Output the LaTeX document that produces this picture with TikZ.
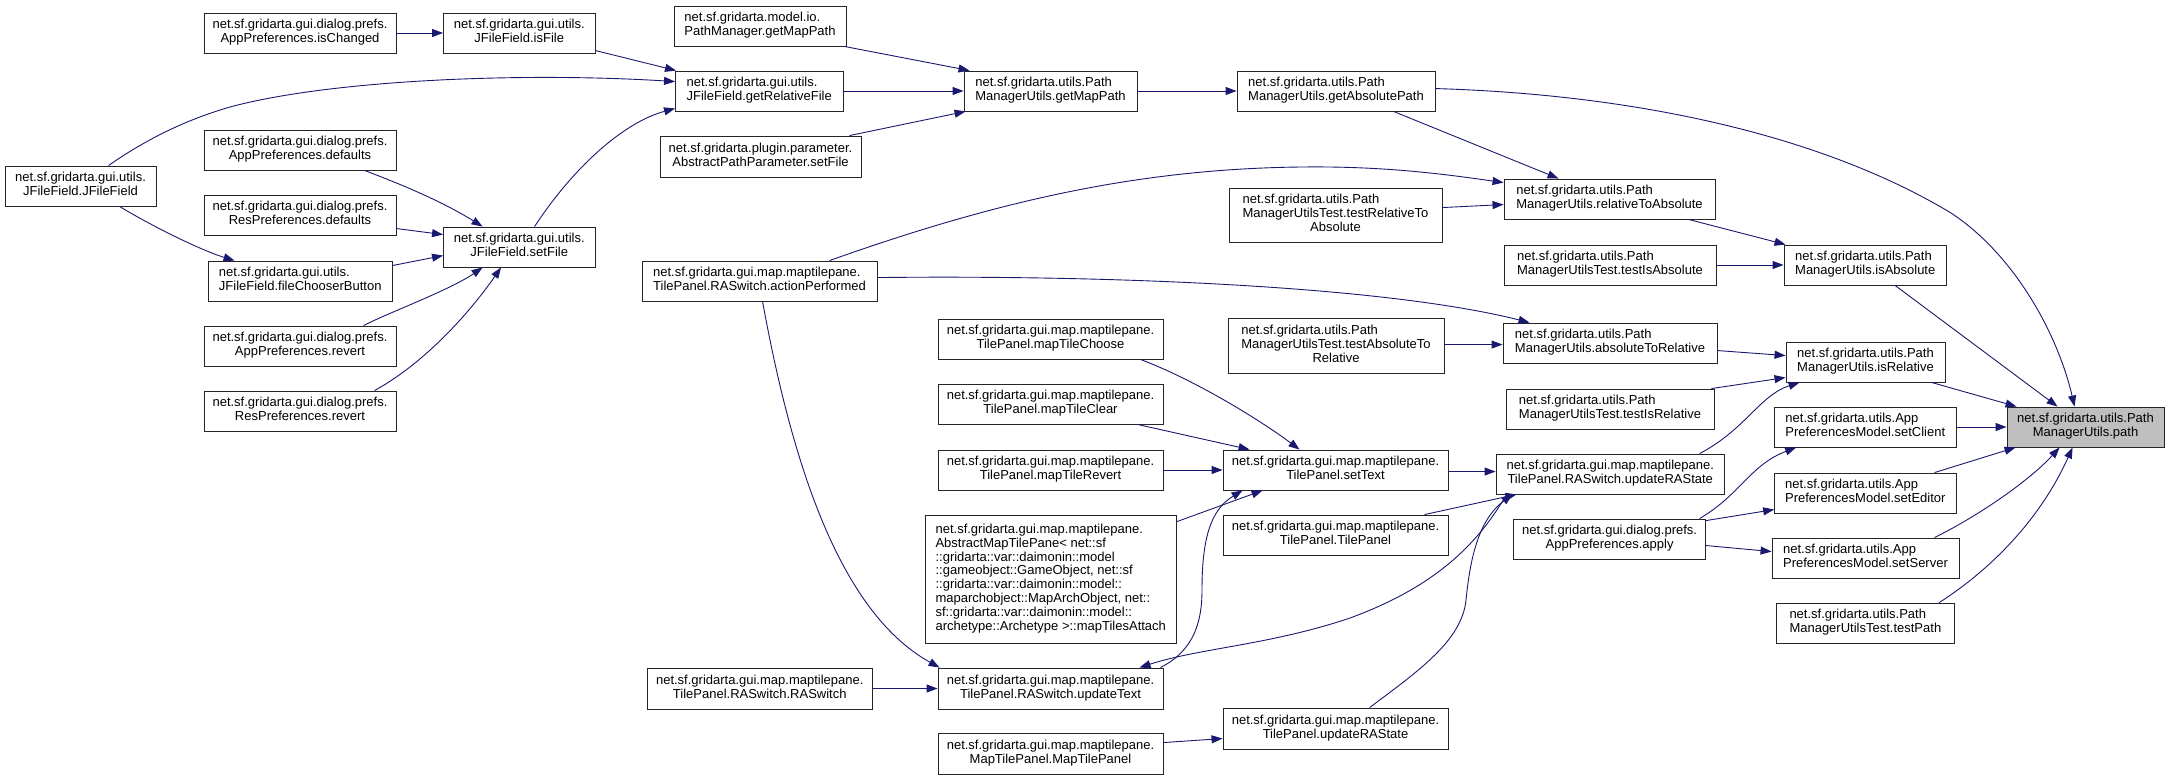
\documentclass[tikz,border=0pt]{standalone}
\usepackage{fontspec}
\setmainfont{Liberation Sans}
\usetikzlibrary{arrows.meta}
\definecolor{edgeblue}{HTML}{191970}
\definecolor{boxgray}{HTML}{BFBFBF}
\newcommand{\nlbl}[2]{\begin{tabular}{@{}l@{}}#1\\\multicolumn{1}{@{}c@{}}{#2}\end{tabular}}
\begin{document}
\begin{tikzpicture}[x=1pt,y=-1pt,
  box/.style={draw=black!85, line width=0.9pt, fill=white, inner sep=0pt, minimum height=40pt, font=\fontsize{13}{13.8}\selectfont},
  edge/.style={draw=edgeblue, line width=0.9pt, -{Triangle[length=11pt,width=8pt]}}]
\useasboundingbox[fill=white] (0,0) rectangle (2169,780);

% column 1
\node[box,minimum width=192pt] (isChanged) at (300,33) {\nlbl{net.sf.gridarta.gui.dialog.prefs.}{AppPreferences.isChanged}};
\node[box,minimum width=151pt] (JFileField) at (80.5,186) {\nlbl{net.sf.gridarta.gui.utils.}{JFileField.JFileField}};
\node[box,minimum width=192pt] (appDefaults) at (300,150) {\nlbl{net.sf.gridarta.gui.dialog.prefs.}{AppPreferences.defaults}};
\node[box,minimum width=192pt] (resDefaults) at (300,215) {\nlbl{net.sf.gridarta.gui.dialog.prefs.}{ResPreferences.defaults}};
\node[box,minimum width=183.5pt] (fileChooser) at (300.25,281) {\nlbl{net.sf.gridarta.gui.utils.}{JFileField.fileChooserButton}};
\node[box,minimum width=192pt] (appRevert) at (300,346) {\nlbl{net.sf.gridarta.gui.dialog.prefs.}{AppPreferences.revert}};
\node[box,minimum width=192pt] (resRevert) at (300,411) {\nlbl{net.sf.gridarta.gui.dialog.prefs.}{ResPreferences.revert}};
\node[box,minimum width=151.5pt] (isFile) at (519.25,33) {\nlbl{net.sf.gridarta.gui.utils.}{JFileField.isFile}};
\node[box,minimum width=151.5pt] (setFile) at (519.25,247) {\nlbl{net.sf.gridarta.gui.utils.}{JFileField.setFile}};
% column 3
\node[box,minimum width=172pt] (pmGetMapPath) at (760,26) {\nlbl{net.sf.gridarta.model.io.}{PathManager.getMapPath}};
\node[box,minimum width=167.5pt] (getRelativeFile) at (759.25,91) {\nlbl{net.sf.gridarta.gui.utils.}{JFileField.getRelativeFile}};
\node[box,minimum width=201pt,minimum height=41pt] (absPathParam) at (760.5,156.5) {\nlbl{net.sf.gridarta.plugin.parameter.}{AbstractPathParameter.setFile}};
\node[box,minimum width=235pt] (actionPerformed) at (759.5,281) {\nlbl{net.sf.gridarta.gui.map.maptilepane.}{TilePanel.RASwitch.actionPerformed}};
\node[box,minimum width=224.5pt,minimum height=41pt] (raswitchCtor) at (759.75,688.5) {\nlbl{net.sf.gridarta.gui.map.maptilepane.}{TilePanel.RASwitch.RASwitch}};
% column 4
\node[box,minimum width=173pt] (pmuGetMapPath) at (1050.5,91) {\nlbl{net.sf.gridarta.utils.Path}{ManagerUtils.getMapPath}};
\node[box,minimum width=225pt] (mapTileChoose) at (1050.5,339) {\nlbl{net.sf.gridarta.gui.map.maptilepane.}{TilePanel.mapTileChoose}};
\node[box,minimum width=225pt] (mapTileClear) at (1050.5,404) {\nlbl{net.sf.gridarta.gui.map.maptilepane.}{TilePanel.mapTileClear}};
\node[box,minimum width=225pt] (mapTileRevert) at (1050.5,470) {\nlbl{net.sf.gridarta.gui.map.maptilepane.}{TilePanel.mapTileRevert}};
\node[box,minimum width=251.5pt,minimum height=128pt] (mapTilesAttach) at (1050.75,579) {\nlbl{net.sf.gridarta.gui.map.maptilepane.\\AbstractMapTilePane< net::sf\\::gridarta::var::daimonin::model\\::gameobject::GameObject, net::sf\\::gridarta::var::daimonin::model::\\maparchobject::MapArchObject, net::\\sf::gridarta::var::daimonin::model::}{archetype::Archetype >::mapTilesAttach}};
\node[box,minimum width=225pt,minimum height=41pt] (updateText) at (1050.5,688.5) {\nlbl{net.sf.gridarta.gui.map.maptilepane.}{TilePanel.RASwitch.updateText}};
\node[box,minimum width=225pt,minimum height=41pt] (mapTilePanel) at (1050.5,753.5) {\nlbl{net.sf.gridarta.gui.map.maptilepane.}{MapTilePanel.MapTilePanel}};
% column 5
\node[box,minimum width=198pt] (getAbsolutePath) at (1336,91) {\nlbl{net.sf.gridarta.utils.Path}{ManagerUtils.getAbsolutePath}};
\node[box,minimum width=213pt,minimum height=54pt] (testRelToAbs) at (1335.5,215) {\nlbl{net.sf.gridarta.utils.Path\\ManagerUtilsTest.testRelativeTo}{Absolute}};
\node[box,minimum width=216pt,minimum height=55pt] (testAbsToRel) at (1336,345.5) {\nlbl{net.sf.gridarta.utils.Path\\ManagerUtilsTest.testAbsoluteTo}{Relative}};
\node[box,minimum width=225pt] (setText) at (1335.5,470) {\nlbl{net.sf.gridarta.gui.map.maptilepane.}{TilePanel.setText}};
\node[box,minimum width=225pt] (tilePanelCtor) at (1335.5,535) {\nlbl{net.sf.gridarta.gui.map.maptilepane.}{TilePanel.TilePanel}};
\node[box,minimum width=225pt,minimum height=41pt] (tpUpdateRAState) at (1335.5,728.5) {\nlbl{net.sf.gridarta.gui.map.maptilepane.}{TilePanel.updateRAState}};
% column 6
\node[box,minimum width=211pt] (relToAbs) at (1609.5,199) {\nlbl{net.sf.gridarta.utils.Path}{ManagerUtils.relativeToAbsolute}};
\node[box,minimum width=212pt] (testIsAbsolute) at (1610,265) {\nlbl{net.sf.gridarta.utils.Path}{ManagerUtilsTest.testIsAbsolute}};
\node[box,minimum width=214pt] (absToRel) at (1610,343) {\nlbl{net.sf.gridarta.utils.Path}{ManagerUtils.absoluteToRelative}};
\node[box,minimum width=208pt] (testIsRelative) at (1610,409) {\nlbl{net.sf.gridarta.utils.Path}{ManagerUtilsTest.testIsRelative}};
\node[box,minimum width=228.5pt] (rasUpdateRAState) at (1610.25,474) {\nlbl{net.sf.gridarta.gui.map.maptilepane.}{TilePanel.RASwitch.updateRAState}};
\node[box,minimum width=192.2pt] (apply) at (1609.6,539) {\nlbl{net.sf.gridarta.gui.dialog.prefs.}{AppPreferences.apply}};
% column 7
\node[box,minimum width=162.5pt] (isAbsolute) at (1865.25,265) {\nlbl{net.sf.gridarta.utils.Path}{ManagerUtils.isAbsolute}};
\node[box,minimum width=159pt] (isRelative) at (1865.5,362) {\nlbl{net.sf.gridarta.utils.Path}{ManagerUtils.isRelative}};
\node[box,minimum width=181.4pt] (setClient) at (1865.3,427) {\nlbl{net.sf.gridarta.utils.App}{PreferencesModel.setClient}};
\node[box,minimum width=181.4pt] (setEditor) at (1865.3,493) {\nlbl{net.sf.gridarta.utils.App}{PreferencesModel.setEditor}};
\node[box,minimum width=187pt] (setServer) at (1865.5,558) {\nlbl{net.sf.gridarta.utils.App}{PreferencesModel.setServer}};
\node[box,minimum width=177.3pt] (testPath) at (1865.35,623) {\nlbl{net.sf.gridarta.utils.Path}{ManagerUtilsTest.testPath}};
% target
\node[box,minimum width=157pt,fill=boxgray] (path) at (2085.5,427) {\nlbl{net.sf.gridarta.utils.Path}{ManagerUtils.path}};

% edges
\draw[edge] (isChanged) -- (isFile);
\draw[edge] ([yshift=-38pt]isFile.north east) -- ([xshift=1pt]getRelativeFile.north west);
\draw[edge] ([xshift=104pt]JFileField.north west) .. controls (145,140) and (185,120) .. (230,107) .. controls (330,80) and (520,72) .. ([yshift=-11pt]getRelativeFile.north west);
\draw[edge] ([xshift=91.5pt]setFile.north west) .. controls (575,165) and (625,122) .. ([yshift=3pt]getRelativeFile.south west);
\draw[edge] ([xshift=115pt]JFileField.south west) .. controls (150,225) and (200,250) .. ([xshift=26.5pt]fileChooser.north west);
\draw[edge] ([xshift=161pt]appDefaults.south west) .. controls (395,182) and (440,200) .. ([xshift=39.5pt]setFile.north west);
\draw[edge] ([yshift=-34pt]resDefaults.north east) -- ([yshift=-8pt]setFile.north west);
\draw[edge] ([yshift=-5pt]fileChooser.north east) -- ([yshift=-29pt]setFile.north west);
\draw[edge] ([xshift=160pt]appRevert.north west) .. controls (390,312) and (450,290) .. ([xshift=39.5pt]setFile.south west);
\draw[edge] ([xshift=171pt]resRevert.north west) .. controls (430,360) and (475,305) .. ([xshift=58pt]setFile.south west);
\draw[edge] ([xshift=-2pt]pmGetMapPath.south east) -- ([xshift=6pt]pmuGetMapPath.north west);
\draw[edge] (getRelativeFile) -- (pmuGetMapPath);
\draw[edge] ([xshift=190pt]absPathParam.north west) -- ([xshift=2pt]pmuGetMapPath.south west);
\draw[edge] (pmuGetMapPath) -- (getAbsolutePath);
\draw[edge] ([xshift=157pt]getAbsolutePath.south west) -- ([xshift=55pt]relToAbs.north west);
\draw[edge] ([yshift=-18pt]getAbsolutePath.north east) .. controls (1650,95) and (1830,140) .. (1951,213) .. controls (2015,255) and (2058,335) .. ([xshift=68pt]path.north west);
\draw[edge] ([xshift=188pt]actionPerformed.north west) .. controls (1000,200) and (1150,165) .. (1330,167) .. controls (1400,168) and (1450,175) .. ([yshift=-4pt]relToAbs.north west);
\draw[edge] ([yshift=-20pt]testRelToAbs.north east) -- ([yshift=-26pt]relToAbs.north west);
\draw[edge] ([xshift=185pt]relToAbs.south west) -- ([xshift=2pt]isAbsolute.north west);
\draw[edge] (testIsAbsolute) -- (isAbsolute);
\draw[edge] ([xshift=111.5pt]isAbsolute.south west) -- ([xshift=51pt]path.north west);
\draw[edge] ([xshift=146pt]isRelative.south west) -- ([xshift=10pt]path.north west);
\draw[edge] ([yshift=-17pt]actionPerformed.north east) .. controls (1100,275) and (1380,285) .. ([xshift=27pt]absToRel.north west);
\draw[edge] ([yshift=-27pt]testAbsToRel.north east) -- ([yshift=-22pt]absToRel.north west);
\draw[edge] ([yshift=-28pt]absToRel.north east) -- ([yshift=-14pt]isRelative.north west);
\draw[edge] ([xshift=-3pt]testIsRelative.north east) -- ([yshift=-36pt]isRelative.north west);
\draw[edge] ([xshift=204pt]rasUpdateRAState.north west) .. controls (1745,430) and (1760,395) .. ([xshift=14pt]isRelative.south west);
\draw[edge] ([xshift=121pt]actionPerformed.south west) .. controls (795,480) and (845,615) .. ([xshift=2pt]updateText.north west);
\draw[edge] ([xshift=203pt]mapTileChoose.south west) .. controls (1195,380) and (1260,420) .. ([xshift=77pt]setText.north west);
\draw[edge] ([xshift=200pt]mapTileClear.south west) -- ([xshift=27pt]setText.north west);
\draw[edge] (mapTileRevert) -- (setText);
\draw[edge] ([yshift=-7pt]mapTilesAttach.north east) -- ([xshift=40pt]setText.south west);
\draw[edge] ([xshift=-3pt]updateText.north east) .. controls (1195,650) and (1202,620) .. (1202,590) .. controls (1202,540) and (1210,510) .. ([xshift=20pt]setText.south west);
\draw[edge] (raswitchCtor) -- (updateText);
\draw[edge] ([yshift=-22pt]setText.north east) -- ([yshift=-18pt]rasUpdateRAState.north west);
\draw[edge] ([xshift=202pt]tilePanelCtor.north west) -- ([xshift=21pt]rasUpdateRAState.south west);
\draw[edge] ([xshift=11pt]rasUpdateRAState.south west) .. controls (1480,540) and (1440,585) .. (1350,618) .. controls (1270,645) and (1200,648) .. ([xshift=202pt]updateText.north west);
\draw[edge] ([xshift=147pt]tpUpdateRAState.north west) .. controls (1420,670) and (1462,640) .. (1466,600) .. controls (1470,560) and (1478,520) .. ([xshift=17pt]rasUpdateRAState.south west);
\draw[edge] ([yshift=-10pt]mapTilePanel.north east) -- ([yshift=-31pt]tpUpdateRAState.north west);
\draw[edge] ([xshift=186.5pt]apply.north west) .. controls (1740,495) and (1750,465) .. ([xshift=22pt]setClient.south west);
\draw[edge] ([yshift=-2pt]apply.north east) -- ([yshift=-37pt]setEditor.north west);
\draw[edge] ([yshift=-27pt]apply.north east) -- ([yshift=-14pt]setServer.north west);
\draw[edge] (setClient) -- (path);
\draw[edge] ([xshift=160.4pt]setEditor.north west) -- ([xshift=9pt]path.south west);
\draw[edge] ([xshift=163pt]setServer.north west) .. controls (1980,515) and (2030,480) .. ([xshift=53pt]path.south west);
\draw[edge] ([xshift=163pt]testPath.north west) .. controls (1990,570) and (2040,520) .. ([xshift=66pt]path.south west);
\end{tikzpicture}
\end{document}
